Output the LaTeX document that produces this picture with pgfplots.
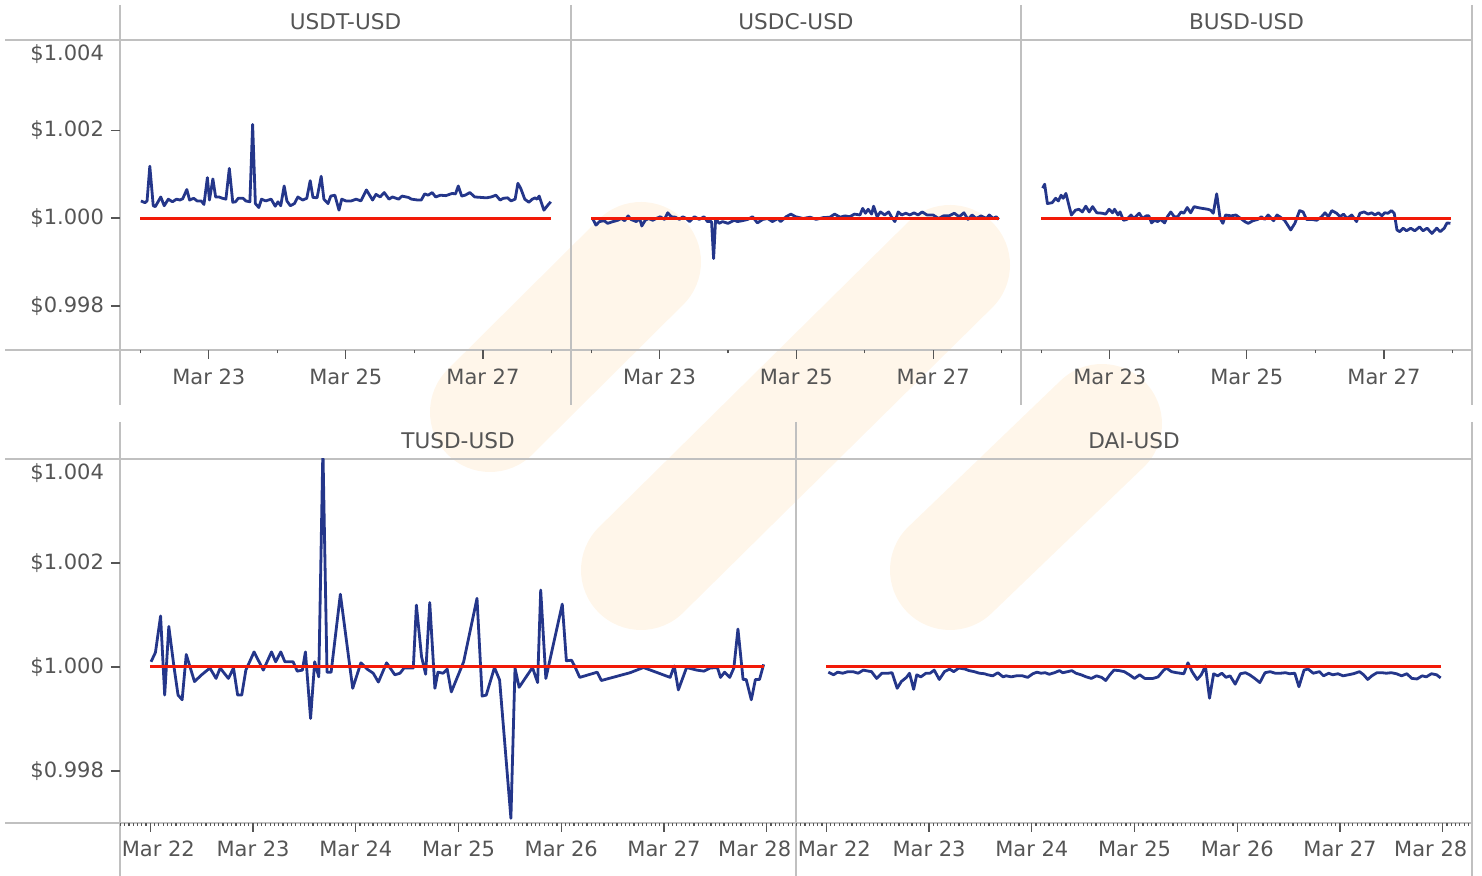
\documentclass[border=0pt]{standalone}
\usepackage{pgfplots}
\pgfplotsset{compat=1.18}
\usepackage{fontspec}
\setmainfont{DejaVu Sans}
\definecolor{navy}{RGB}{36,54,138}
\definecolor{redl}{RGB}{242,26,8}
\definecolor{wm}{RGB}{255,246,234}
\definecolor{framec}{RGB}{192,192,192}
\definecolor{txt}{RGB}{85,85,85}
\pgfplotsset{
  panel/.style={scale only axis, anchor=south west,
    axis lines*=left, axis line style={draw=none},
    tick align=outside, tick style={draw=txt, line width=0.6pt},
    major tick length=4.5pt, minor tick length=1.75pt,
    tick label style={font=\fontsize{10.5}{12}\selectfont, text=txt},
    scaled y ticks=false, clip=true,
    xmin=21.705, xmax=28.285, ymin=0.997},
  toprow/.style={panel, height=155pt, ymax=1.00405,
    xtick={23,25,27}, xticklabels={Mar 23,Mar 25,Mar 27},
    minor xtick={22,24,26,28},
    xticklabel style={yshift=-1.6pt}},
  botrow/.style={panel, height=182pt, ymax=1.004,
    xtick={22,...,28},
    xticklabels={\hspace*{8pt}Mar 22,Mar 23,Mar 24,Mar 25,Mar 26,Mar 27,Mar 28\hspace*{12pt}},
    minor xtick={21.7083333,21.75,...,28.28}, minor tick length=1.5pt,
    xticklabel style={yshift=-1.1pt}},
  yleft/.style={ytick={0.998,1.000,1.002}, yticklabels={\$0.998,\$1.000,\$1.002},
    extra y ticks={1.00373}, extra y tick labels={\$1.004},
    extra y tick style={major tick length=0pt, yticklabel style={xshift=-4.5pt}}},
  ynone/.style={ytick=\empty},
  price/.style={navy, line width=1.4pt, line join=round, no marks},
  par/.style={redl, line width=1.5pt, no marks},
}
\begin{document}
\begin{tikzpicture}
\useasboundingbox (0,0) rectangle (741pt,438pt);
% watermark and frame in pixel coordinates
\begin{scope}[x=0.5pt,y=-0.5pt,shift={(0pt,438pt)}]
  \draw[wm, line width=60pt, line cap=round] (490,412) -- (641,262);
  \draw[wm, line width=60pt, line cap=round] (641,570) -- (950,265);
  \draw[wm, line width=60pt, line cap=round] (950,570) -- (1102,424);
  \begin{scope}[framec, line width=1pt]
    \draw (5,40) -- (1472,40);
    \draw (5,350) -- (1472,350);
    \foreach \xx in {120,571,1021,1472} \draw (\xx,5) -- (\xx,405);
    \draw (5,459) -- (1472,459);
    \draw (5,823) -- (1472,823);
    \foreach \xx in {120,796,1472} \draw (\xx,422) -- (\xx,876);
  \end{scope}
  \begin{scope}[font=\fontsize{10.8}{13}\selectfont, text=txt]
    \node at (345.5,21.5) {USDT-USD};
    \node at (796,21.5) {USDC-USD};
    \node at (1246.5,21.5) {BUSD-USD};
    \node at (458,440.5) {TUSD-USD};
    \node at (1134,440.5) {DAI-USD};
  \end{scope}
\end{scope}

% ---------------- USDT ----------------
\begin{axis}[toprow, yleft, at={(60pt,263pt)}, width=225.5pt]
\addplot[price] coordinates {(22.01,1.00039)(22.07,1.00035)(22.10,1.00039)(22.14,1.00118)(22.19,1.00028)(22.22,1.00026)(22.30,1.00048)(22.35,1.00028)(22.41,1.00043)(22.47,1.00037)(22.53,1.00043)(22.58,1.00041)(22.62,1.00044)(22.68,1.00065)(22.72,1.00041)(22.78,1.00045)(22.83,1.00039)(22.89,1.00039)(22.93,1.00031)(22.98,1.00092)(23.01,1.00041)(23.06,1.00089)(23.10,1.00048)(23.15,1.00048)(23.20,1.00045)(23.25,1.00043)(23.30,1.00113)(23.35,1.00036)(23.39,1.00037)(23.43,1.00045)(23.50,1.00045)(23.54,1.00039)(23.60,1.00037)(23.64,1.00213)(23.68,1.00033)(23.73,1.00024)(23.77,1.00043)(23.83,1.00039)(23.91,1.00043)(23.97,1.00027)(24.01,1.00037)(24.05,1.00028)(24.10,1.00073)(24.14,1.00039)(24.19,1.00028)(24.25,1.00033)(24.30,1.00048)(24.37,1.00041)(24.43,1.00045)(24.48,1.00085)(24.52,1.00047)(24.58,1.00046)(24.64,1.00095)(24.68,1.00043)(24.74,1.00033)(24.78,1.00050)(24.84,1.00052)(24.90,1.00018)(24.94,1.00043)(25.00,1.00039)(25.08,1.00039)(25.15,1.00043)(25.22,1.00039)(25.30,1.00064)(25.39,1.00041)(25.44,1.00054)(25.50,1.00048)(25.56,1.00058)(25.63,1.00043)(25.68,1.00048)(25.77,1.00043)(25.82,1.00050)(25.91,1.00047)(25.96,1.00043)(26.05,1.00041)(26.10,1.00041)(26.15,1.00055)(26.20,1.00052)(26.26,1.00058)(26.31,1.00048)(26.38,1.00052)(26.46,1.00051)(26.55,1.00056)(26.60,1.00055)(26.64,1.00073)(26.69,1.00050)(26.74,1.00052)(26.81,1.00058)(26.88,1.00048)(26.97,1.00047)(27.05,1.00046)(27.12,1.00048)(27.19,1.00052)(27.25,1.00041)(27.30,1.00045)(27.36,1.00046)(27.41,1.00039)(27.47,1.00043)(27.51,1.00079)(27.55,1.00068)(27.61,1.00043)(27.67,1.00036)(27.72,1.00043)(27.76,1.00046)(27.79,1.00043)(27.82,1.00050)(27.89,1.00018)(27.95,1.00030)(27.99,1.00037)};
\addplot[par] coordinates {(22,1)(28,1)};
\end{axis}

% ---------------- USDC ----------------
\begin{axis}[toprow, ynone, at={(285.5pt,263pt)}, width=225pt]
\addplot[price] coordinates {(22.02,0.99999)(22.07,0.99984)(22.12,0.99992)(22.19,0.99994)(22.24,0.99988)(22.32,0.99992)(22.39,0.99995)(22.44,0.99999)(22.49,0.99994)(22.54,1.00005)(22.58,0.99997)(22.66,0.99992)(22.71,0.99999)(22.74,0.99982)(22.79,0.99995)(22.84,0.99999)(22.90,0.99995)(22.95,0.99999)(23.01,1.00003)(23.07,0.99997)(23.12,1.00012)(23.17,1.00003)(23.23,1.00002)(23.29,0.99997)(23.34,1.00003)(23.39,0.99999)(23.44,0.99992)(23.51,1.00003)(23.58,0.99997)(23.65,1.00003)(23.70,0.99992)(23.76,0.99992)(23.79,0.99908)(23.82,0.99999)(23.87,0.99988)(23.92,0.99992)(24.00,0.99988)(24.09,0.99995)(24.14,0.99992)(24.21,0.99994)(24.29,0.99997)(24.36,1.00003)(24.43,0.99989)(24.51,0.99997)(24.58,0.99999)(24.65,0.99992)(24.73,0.99999)(24.77,0.99992)(24.85,1.00003)(24.92,1.00009)(24.99,1.00003)(25.10,0.99999)(25.20,1.00002)(25.29,0.99997)(25.39,1.00001)(25.49,1.00002)(25.56,1.00009)(25.64,1.00002)(25.71,1.00005)(25.78,1.00003)(25.85,1.00009)(25.93,1.00007)(25.97,1.00022)(26.01,1.00011)(26.05,1.00020)(26.10,1.00009)(26.13,1.00027)(26.18,1.00003)(26.23,1.00014)(26.29,1.00007)(26.35,1.00014)(26.39,1.00003)(26.44,0.99992)(26.49,1.00014)(26.54,1.00007)(26.60,1.00011)(26.66,1.00007)(26.72,1.00012)(26.78,1.00007)(26.84,1.00014)(26.91,1.00007)(27.00,1.00007)(27.08,0.99999)(27.15,1.00005)(27.23,1.00005)(27.31,1.00011)(27.38,1.00003)(27.45,1.00012)(27.51,0.99997)(27.57,1.00007)(27.63,0.99999)(27.70,1.00005)(27.78,0.99999)(27.82,1.00007)(27.88,0.99999)(27.92,1.00003)(27.96,0.99997)};
\addplot[par] coordinates {(22,1)(27.97,1)};
\end{axis}

% ---------------- BUSD ----------------
\begin{axis}[toprow, ynone, at={(510.5pt,263pt)}, width=225.5pt]
\addplot[price] coordinates {(22.02,1.00068)(22.05,1.00077)(22.09,1.00033)(22.16,1.00035)(22.21,1.00045)(22.25,1.00039)(22.29,1.00052)(22.32,1.00045)(22.36,1.00056)(22.44,1.00007)(22.50,1.00018)(22.55,1.00020)(22.60,1.00014)(22.65,1.00027)(22.70,1.00014)(22.75,1.00026)(22.81,1.00012)(22.89,1.00011)(22.94,1.00009)(22.99,1.00020)(23.04,1.00012)(23.07,1.00020)(23.12,1.00007)(23.15,1.00014)(23.20,0.99995)(23.25,0.99997)(23.31,1.00007)(23.35,0.99999)(23.43,1.00011)(23.48,0.99999)(23.53,1.00005)(23.57,1.00005)(23.61,0.99989)(23.65,0.99995)(23.70,0.99992)(23.74,0.99997)(23.80,0.99989)(23.84,1.00003)(23.89,1.00014)(23.94,1.00003)(23.99,1.00003)(24.04,1.00014)(24.08,1.00011)(24.13,1.00024)(24.18,1.00012)(24.23,1.00026)(24.28,1.00024)(24.35,1.00022)(24.43,1.00020)(24.47,1.00018)(24.51,1.00011)(24.56,1.00055)(24.61,0.99999)(24.65,0.99988)(24.69,1.00007)(24.77,1.00005)(24.84,1.00007)(24.91,0.99999)(24.97,0.99992)(25.02,0.99988)(25.09,0.99994)(25.16,0.99997)(25.21,1.00003)(25.26,0.99997)(25.31,1.00007)(25.39,0.99994)(25.44,1.00007)(25.48,1.00003)(25.55,0.99995)(25.64,0.99973)(25.70,0.99988)(25.77,1.00017)(25.82,1.00014)(25.87,0.99997)(25.94,0.99997)(26.02,0.99995)(26.09,1.00003)(26.14,1.00012)(26.19,1.00003)(26.24,1.00017)(26.31,1.00011)(26.36,1.00003)(26.41,1.00009)(26.46,0.99999)(26.53,1.00007)(26.60,0.99992)(26.65,1.00011)(26.71,1.00014)(26.77,1.00009)(26.82,1.00012)(26.87,1.00007)(26.92,1.00012)(26.97,1.00005)(27.01,1.00012)(27.06,1.00011)(27.11,1.00017)(27.15,1.00011)(27.19,0.99973)(27.23,0.99969)(27.28,0.99977)(27.33,0.99971)(27.39,0.99977)(27.45,0.99971)(27.52,0.99980)(27.57,0.99971)(27.63,0.99977)(27.70,0.99965)(27.77,0.99977)(27.82,0.99969)(27.88,0.99977)(27.92,0.99989)(27.97,0.99988)};
\addplot[par] coordinates {(22,1)(27.98,1)};
\end{axis}

% ---------------- TUSD ----------------
\begin{axis}[botrow, yleft, at={(60pt,26.5pt)}, width=338pt]
\addplot[price] coordinates {(22.007,1.00010)(22.05,1.00028)(22.10,1.00098)(22.14,0.99946)(22.18,1.00078)(22.23,1.00001)(22.27,0.99946)(22.31,0.99937)(22.35,1.00024)(22.43,0.99972)(22.50,0.99985)(22.58,0.99998)(22.64,0.99978)(22.68,0.99998)(22.76,0.99978)(22.81,0.99998)(22.85,0.99946)(22.89,0.99946)(22.93,0.99994)(23.01,1.00029)(23.10,0.99994)(23.18,1.00029)(23.22,1.00010)(23.27,1.00029)(23.31,1.00010)(23.39,1.00010)(23.43,0.99992)(23.48,0.99994)(23.51,1.00029)(23.56,0.99901)(23.60,1.00010)(23.64,0.99981)(23.68,1.00420)(23.72,0.99990)(23.76,0.99990)(23.85,1.00140)(23.97,0.99959)(24.05,1.00008)(24.11,0.99996)(24.17,0.99988)(24.22,0.99971)(24.30,1.00008)(24.38,0.99985)(24.43,0.99988)(24.47,0.99998)(24.56,0.99998)(24.59,1.00119)(24.64,1.00020)(24.68,0.99986)(24.72,1.00124)(24.77,0.99959)(24.80,0.99990)(24.85,0.99988)(24.89,0.99996)(24.93,0.99952)(25.05,1.00010)(25.18,1.00132)(25.23,0.99944)(25.27,0.99946)(25.35,0.99999)(25.40,0.99975)(25.51,0.99709)(25.55,0.99998)(25.59,0.99961)(25.72,0.99999)(25.77,0.99970)(25.80,1.00148)(25.85,0.99978)(26.01,1.00121)(26.05,1.00012)(26.10,1.00013)(26.13,1.00002)(26.18,0.99980)(26.35,0.99990)(26.39,0.99974)(26.67,0.99989)(26.80,0.99999)(27.06,0.99980)(27.10,1.00002)(27.14,0.99956)(27.22,0.99999)(27.32,0.99994)(27.39,0.99992)(27.45,0.99998)(27.52,0.99999)(27.55,0.99980)(27.59,0.99990)(27.64,0.99980)(27.68,0.99998)(27.72,1.00073)(27.77,0.99976)(27.80,0.99976)(27.85,0.99937)(27.89,0.99976)(27.93,0.99976)(27.97,1.00005)};
\addplot[par] coordinates {(22,1)(27.97,1)};
\end{axis}

% ---------------- DAI ----------------
\begin{axis}[botrow, ynone, at={(398pt,26.5pt)}, width=338pt]
\addplot[price] coordinates {(22.02,0.99990)(22.07,0.99985)(22.11,0.99990)(22.16,0.99988)(22.21,0.99991)(22.26,0.99991)(22.31,0.99988)(22.36,0.99994)(22.41,0.99992)(22.44,0.99991)(22.49,0.99978)(22.54,0.99988)(22.60,0.99988)(22.64,0.99989)(22.69,0.99959)(22.73,0.99972)(22.78,0.99980)(22.81,0.99988)(22.85,0.99957)(22.88,0.99985)(22.92,0.99981)(22.97,0.99988)(23.01,0.99988)(23.05,0.99994)(23.10,0.99976)(23.15,0.99991)(23.20,0.99996)(23.24,0.99991)(23.29,0.99998)(23.35,0.99996)(23.39,0.99993)(23.44,0.99991)(23.49,0.99988)(23.54,0.99987)(23.57,0.99985)(23.62,0.99983)(23.67,0.99989)(23.72,0.99981)(23.75,0.99983)(23.80,0.99981)(23.85,0.99983)(23.91,0.99983)(23.96,0.99980)(24.01,0.99987)(24.05,0.99990)(24.09,0.99988)(24.13,0.99989)(24.17,0.99986)(24.22,0.99989)(24.27,0.99993)(24.30,0.99989)(24.35,0.99991)(24.39,0.99993)(24.43,0.99988)(24.48,0.99985)(24.53,0.99981)(24.58,0.99978)(24.63,0.99983)(24.68,0.99980)(24.72,0.99974)(24.76,0.99985)(24.80,0.99994)(24.85,0.99993)(24.90,0.99991)(24.95,0.99985)(25.00,0.99978)(25.05,0.99985)(25.10,0.99978)(25.18,0.99978)(25.23,0.99981)(25.28,0.99993)(25.31,0.99998)(25.36,0.99991)(25.41,0.99989)(25.48,0.99987)(25.52,1.00008)(25.56,0.99991)(25.61,0.99976)(25.65,0.99985)(25.69,1.00002)(25.73,0.99940)(25.77,0.99987)(25.81,0.99983)(25.85,0.99988)(25.89,0.99980)(25.93,0.99983)(25.98,0.99967)(26.03,0.99987)(26.08,0.99989)(26.12,0.99985)(26.17,0.99978)(26.22,0.99970)(26.27,0.99989)(26.32,0.99991)(26.37,0.99988)(26.42,0.99988)(26.47,0.99989)(26.51,0.99987)(26.56,0.99988)(26.60,0.99962)(26.65,0.99994)(26.69,0.99996)(26.74,0.99988)(26.80,0.99991)(26.84,0.99983)(26.89,0.99988)(26.93,0.99985)(26.98,0.99987)(27.03,0.99983)(27.08,0.99985)(27.13,0.99987)(27.19,0.99991)(27.23,0.99985)(27.27,0.99976)(27.31,0.99983)(27.36,0.99989)(27.41,0.99989)(27.45,0.99988)(27.50,0.99989)(27.55,0.99987)(27.60,0.99983)(27.65,0.99987)(27.70,0.99978)(27.75,0.99977)(27.80,0.99983)(27.84,0.99981)(27.89,0.99987)(27.94,0.99985)(27.98,0.99979)};
\addplot[par] coordinates {(22,1)(27.98,1)};
\end{axis}
\end{tikzpicture}
\end{document}
